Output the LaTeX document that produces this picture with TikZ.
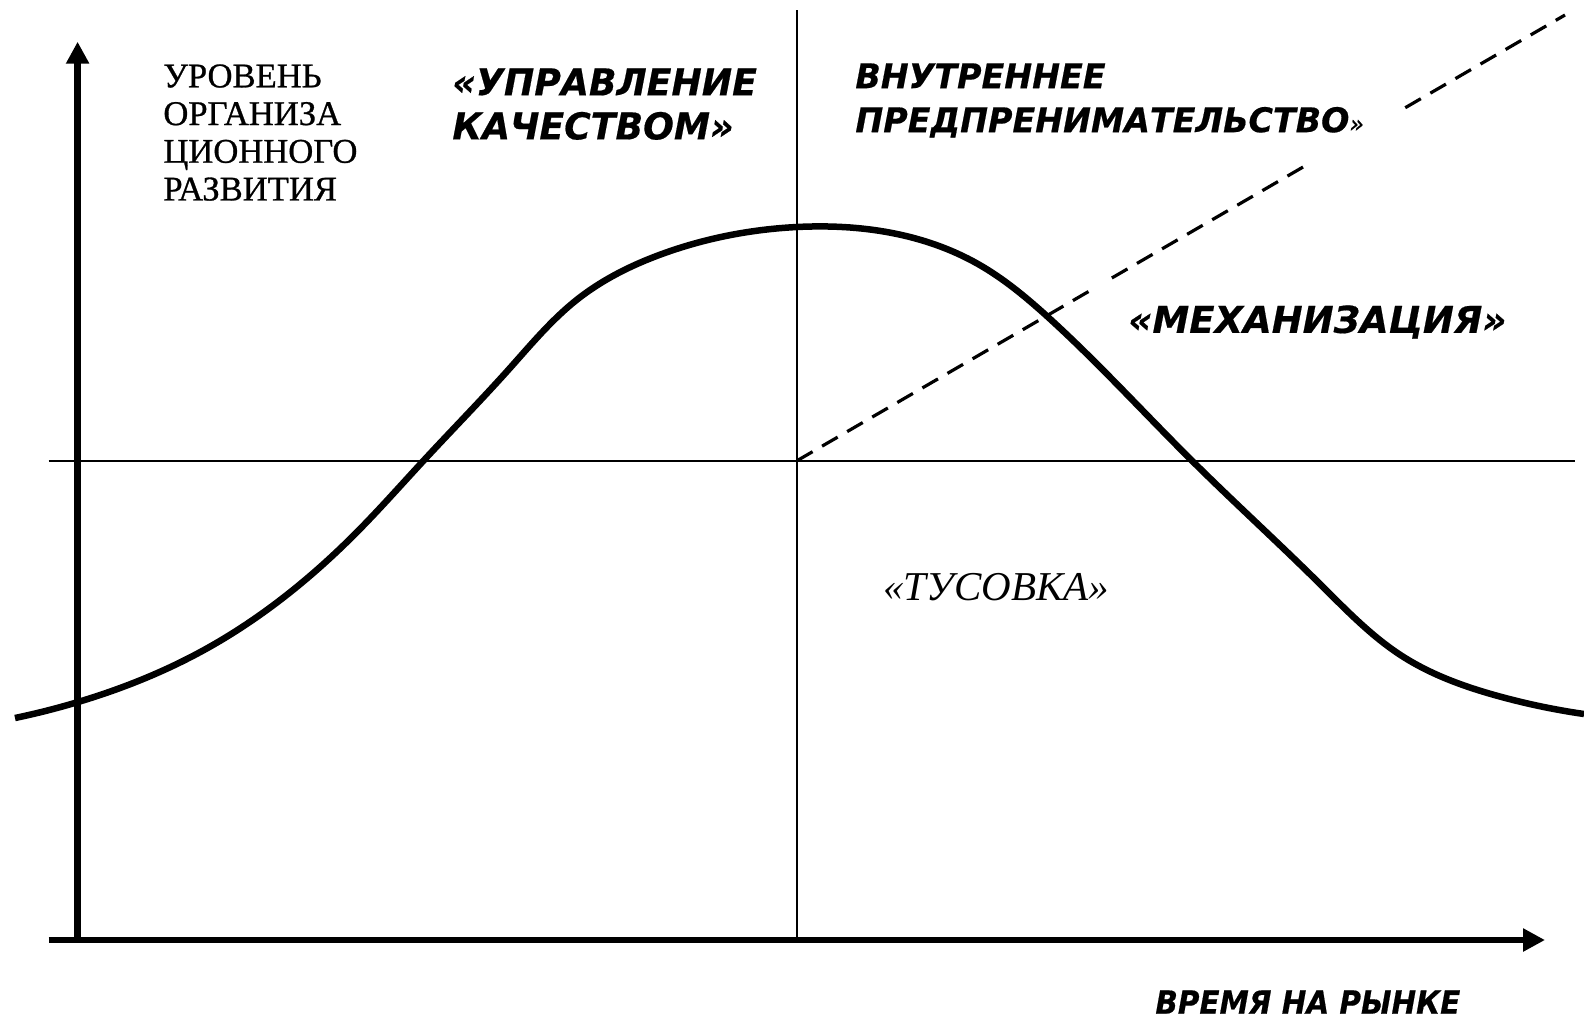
\documentclass[tikz,border=0pt]{standalone}
\usepackage{fontspec}
\setmainfont{Liberation Serif}
\newfontfamily\dvs{DejaVu Sans}
\usetikzlibrary{arrows.meta,calc,hobby}
\tikzset{
  axisline/.style={line width=3.25pt,-{Triangle[length=11pt,width=11pt]}},
  thinline/.style={line width=1pt},
  curveline/.style={line width=3.25pt},
  dashline/.style={line width=1.6pt,dash pattern=on 9pt off 5.5pt},
  seriflab/.style={inner sep=0pt,anchor=north west,align=left,font=\fontsize{17.3}{18.85}\selectfont\addfontfeatures{FakeBold=0.8}},
  boldlab/.style={inner sep=0pt,anchor=north west,align=left},
}
\begin{document}
\begin{tikzpicture}[x=0.5pt,y=-0.5pt]
\useasboundingbox[fill=white] (0,0) rectangle (1584,1019);
% axes
\coordinate (O) at (77.6,940);
\coordinate (ytip) at (77.6,41.7);
\coordinate (xstart) at (48.5,940);
\coordinate (xtip) at (1545,940);
\coordinate (vtop) at (797,10);
\coordinate (vbot) at (797,940);
\coordinate (hl) at (48.5,460.7);
\coordinate (hr) at (1575,460.7);
\coordinate (ds) at (797,460.7);
\coordinate (de) at (1565,15);
\draw[thinline] (vtop) -- (vbot);
\draw[thinline] (hl) -- (hr);
\draw[axisline] (O) -- (ytip);
\draw[axisline] (xstart) -- (xtip);
% dashed line (with gaps)
\draw[dashline] (ds) -- ($(ds)!0.385!(de)$);
\draw[dashline] ($(ds)!0.41!(de)$) -- ($(ds)!0.671!(de)$);
\draw[dashline] ($(ds)!0.792!(de)$) -- (de);
% curve
\coordinate (c0) at (15,718);
\coordinate (c9) at (1584,714);
\draw[curveline] (c0) to[curve through={(78,702) (204,650) (357,532) (423.5,460.7) (510,368)
 (576.5,300) (663,253.6) (797,227) (978,264) (1049,318)
 (1192,460.7) (1320,584) (1402,656) (1498,696)}] (c9);
% labels
\node[seriflab] (ylab) at (163,64) {УРОВЕНЬ\\ОРГАНИЗА\\ЦИОННОГО\\РАЗВИТИЯ};
\node[boldlab,font=\dvs\bfseries\itshape\fontsize{18.5}{22}\selectfont\addfontfeatures{FakeBold=0.5,FakeStretch=0.98}] (uk) at (452,68) {«УПРАВЛЕНИЕ\\КАЧЕСТВОМ»};
\node[boldlab,font=\dvs\bfseries\itshape\fontsize{17}{22}\selectfont\addfontfeatures{FakeBold=0.5,FakeStretch=0.98}] (vp) at (855,63) {ВНУТРЕННЕЕ\\ПРЕДПРЕНИМАТЕЛЬСТВО{\mdseries\fontsize{12}{14}\selectfont»}};
\node[boldlab,font=\dvs\bfseries\itshape\fontsize{18.5}{22}\selectfont\addfontfeatures{FakeBold=0.5}] (mech) at (1128,305) {«МЕХАНИЗАЦИЯ»};
\node[boldlab,font=\itshape\fontsize{20.5}{22}\selectfont] (tus) at (883,573) {«ТУСОВКА»};
\node[boldlab,font=\dvs\bfseries\itshape\fontsize{16}{19}\selectfont\addfontfeatures{FakeBold=0.5,FakeStretch=0.92}] (time) at (1155,990) {ВРЕМЯ НА РЫНКЕ};
\end{tikzpicture}
\end{document}
